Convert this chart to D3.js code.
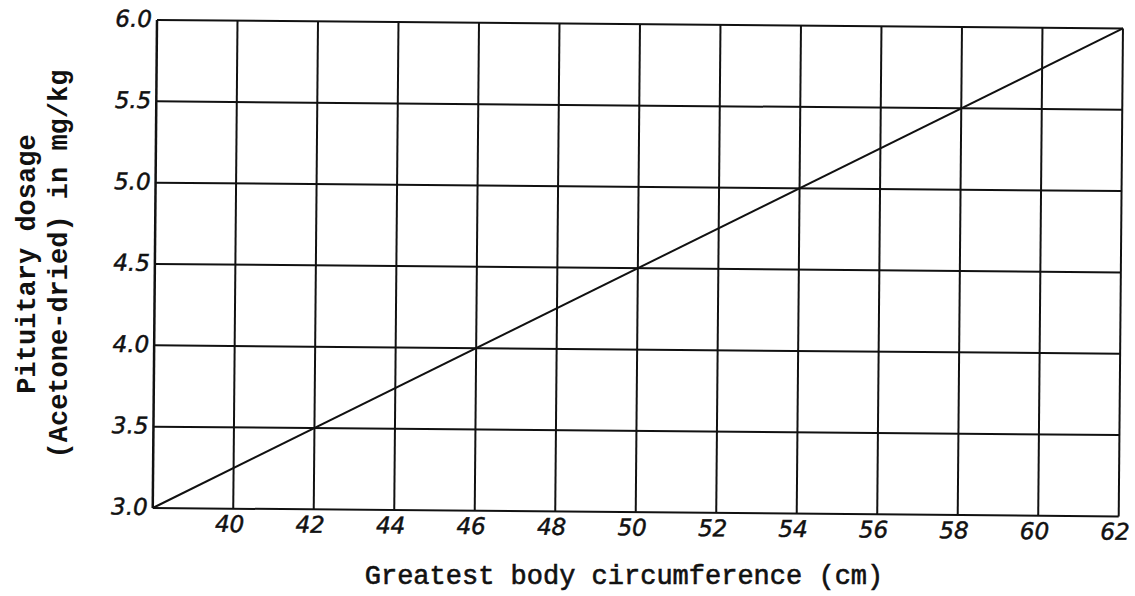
<!DOCTYPE html>
<html>
<head>
<meta charset="utf-8">
<script src="https://cdn.jsdelivr.net/npm/d3@7"></script>
<style>
  body { margin: 0; background: #fff; }
  .tick text { font-family: "DejaVu Sans", sans-serif; font-style: italic; }
</style>
</head>
<body>
<script>
const xTicks = [40, 42, 44, 46, 48, 50, 52, 54, 56, 58, 60, 62];
const yTicks = [3.0, 3.5, 4.0, 4.5, 5.0, 5.5, 6.0];
const lineX = [38, 62];
const lineY = [3.0, 6.0];

const W = 1135, H = 596;
const margin = {top: 20, right: 12, bottom: 88, left: 157};
const width = W - margin.left - margin.right;
const height = H - margin.top - margin.bottom;

const svg = d3.select("body").append("svg")
    .attr("width", W)
    .attr("height", H);

// scan is slightly tilted
const g = svg.append("g")
    .attr("transform", "translate(" + margin.left + "," + margin.top + ") rotate(0.5)");

const x = d3.scaleLinear().domain([38, 62]).range([0, width]);
const y = d3.scaleLinear().domain([3, 6]).range([height, 0]);

// grid
g.selectAll(".vgrid")
    .data(xTicks)
    .join("line")
    .attr("x1", d => x(d)).attr("x2", d => x(d))
    .attr("y1", 0).attr("y2", height)
    .attr("stroke", "#111").attr("stroke-width", 2);

g.selectAll(".hgrid")
    .data(yTicks)
    .join("line")
    .attr("x1", 0).attr("x2", width)
    .attr("y1", d => y(d)).attr("y2", d => y(d))
    .attr("stroke", "#111").attr("stroke-width", 2);

g.append("line")
    .attr("x1", 0).attr("x2", 0)
    .attr("y1", 0).attr("y2", height)
    .attr("stroke", "#111").attr("stroke-width", 2.5);

// axes (labels only)
const xAxis = g.append("g")
    .attr("transform", "translate(0," + height + ")")
    .call(d3.axisBottom(x).tickValues(xTicks).tickSize(0).tickPadding(7));
xAxis.select(".domain").remove();
xAxis.selectAll("text")
    .attr("font-size", 23)
    .attr("fill", "#111")
    .attr("stroke", "#111").attr("stroke-width", 0.5)
    .attr("dx", -4);

const yAxis = g.append("g")
    .call(d3.axisLeft(y).tickValues(yTicks).tickSize(0).tickPadding(5).tickFormat(d3.format(".1f")));
yAxis.select(".domain").remove();
yAxis.selectAll("text")
    .attr("font-size", 23)
    .attr("fill", "#111")
    .attr("stroke", "#111").attr("stroke-width", 0.5)
    .attr("dy", "0.28em");

// the line
const line = d3.line().x(d => x(d[0])).y(d => y(d[1]));
g.append("path")
    .datum(lineX.map((v, i) => [v, lineY[i]]))
    .attr("d", line)
    .attr("fill", "none")
    .attr("stroke", "#111")
    .attr("stroke-width", 2);

// axis titles
svg.append("text")
    .attr("x", 624).attr("y", 584)
    .attr("text-anchor", "middle")
    .attr("font-family", "Liberation Mono, monospace")
    .attr("font-size", 27)
    .attr("fill", "#111")
    .attr("stroke", "#111").attr("stroke-width", 0.6)
    .text("Greatest body circumference (cm)");

const yTitle = svg.append("text")
    .attr("transform", "translate(0,264) rotate(-90)")
    .attr("text-anchor", "middle")
    .attr("font-family", "Liberation Mono, monospace")
    .attr("font-weight", "bold")
    .attr("font-size", 27)
    .attr("fill", "#111");
yTitle.append("tspan").attr("x", 0).attr("y", 35).text("Pituitary dosage");
yTitle.append("tspan").attr("x", 0).attr("y", 67).text("(Acetone-dried) in mg/kg");
</script>
</body>
</html>
